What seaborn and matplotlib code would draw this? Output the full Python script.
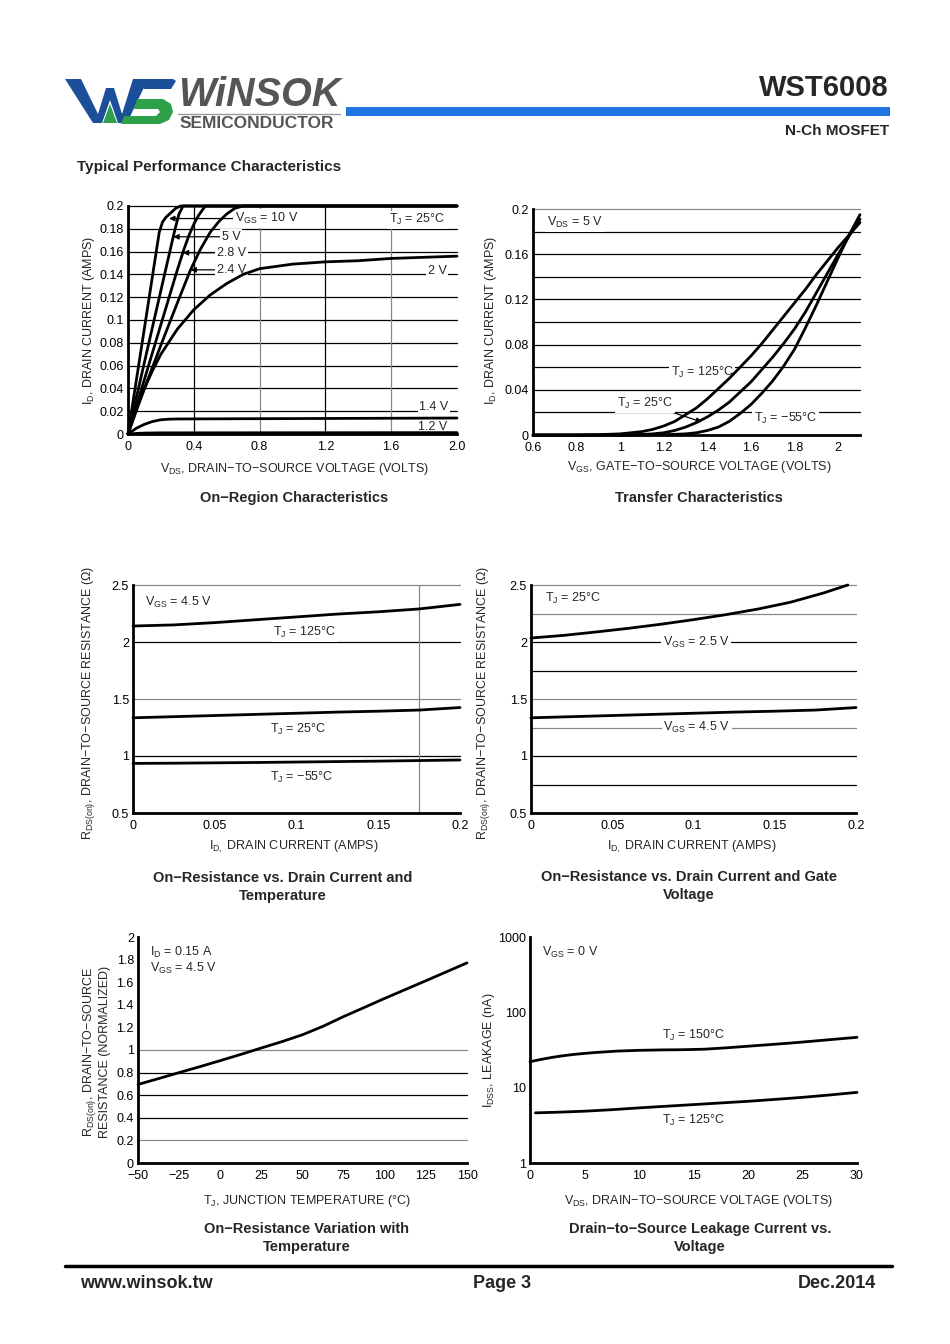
import matplotlib
matplotlib.use("Agg")
import matplotlib.pyplot as plt
import seaborn as sns
from matplotlib.patches import Polygon

W, H = 950, 1344

# ---- values ----
# On-region characteristics (Tj = 25C), VDS in volts, ID in amps
on_10v_x = [0, 0.1, 0.19, 0.21, 0.23, 0.26, 0.29, 0.32, 2.0]
on_10v_y = [0, 0.093, 0.177, 0.186, 0.19, 0.194, 0.198, 0.2, 0.2]
on_5v_x = [0, 0.1, 0.2, 0.275, 0.29, 0.31, 0.335, 2.0]
on_5v_y = [0, 0.063, 0.126, 0.173, 0.182, 0.193, 0.2, 0.2]
on_28v_x = [0, 0.1, 0.2, 0.3, 0.34, 0.37, 0.4, 0.43, 0.47, 2.0]
on_28v_y = [0, 0.048, 0.096, 0.144, 0.162, 0.174, 0.184, 0.192, 0.2, 0.2]
on_24v_x = [0, 0.1, 0.2, 0.3, 0.38, 0.44, 0.5, 0.55, 0.6, 0.65, 0.7, 2.0]
on_24v_y = [0, 0.04, 0.078, 0.115, 0.144, 0.162, 0.177, 0.186, 0.193, 0.198, 0.2, 0.2]
on_2v_x = [0, 0.05, 0.1, 0.15, 0.2, 0.3, 0.4, 0.5, 0.6, 0.7, 0.8, 0.9, 1.0, 1.2, 1.4, 1.6, 1.8, 2.0]
on_2v_y = [0, 0.022, 0.04, 0.056, 0.07, 0.092, 0.109, 0.122, 0.132, 0.14, 0.145, 0.147,
           0.149, 0.151, 0.152, 0.154, 0.155, 0.156]
on_14v_x = [0, 0.05, 0.1, 0.15, 0.2, 0.25, 0.3, 2.0]
on_14v_y = [0, 0.005, 0.0085, 0.011, 0.0125, 0.013, 0.0132, 0.014]
on_12v_x = [0, 0.05, 0.1, 0.2, 2.0]
on_12v_y = [0, 0.0005, 0.0008, 0.001, 0.0012]

# Transfer characteristics (VDS = 5 V)
vgs = [0.6, 0.8, 0.9, 1.0, 1.05, 1.1, 1.15, 1.2, 1.25, 1.3, 1.35, 1.4, 1.45, 1.5, 1.55,
       1.6, 1.65, 1.7, 1.75, 1.8, 1.85, 1.9, 1.95, 2.0, 2.05, 2.1]
id_125 = [0, 0, 0.0003, 0.001, 0.002, 0.003, 0.005, 0.008, 0.012, 0.018, 0.024, 0.032,
          0.041, 0.05, 0.06, 0.07, 0.081, 0.093, 0.105, 0.117, 0.129, 0.142, 0.154,
          0.166, 0.177, 0.188]
id_25 = [0, 0, 0, 0, 0.0002, 0.0005, 0.001, 0.002, 0.004, 0.007, 0.011, 0.016, 0.022,
         0.029, 0.038, 0.047, 0.058, 0.069, 0.081, 0.094, 0.109, 0.126, 0.143, 0.16,
         0.176, 0.191]
id_m55 = [0, 0, 0, 0, 0, 0, 0.0001, 0.0003, 0.0006, 0.001, 0.002, 0.004, 0.007, 0.012,
          0.019, 0.027, 0.037, 0.048, 0.061, 0.076, 0.095, 0.115, 0.136, 0.157, 0.177,
          0.195]

# On-resistance vs drain current and temperature (VGS = 4.5 V)
id_r = [0, 0.025, 0.05, 0.075, 0.1, 0.125, 0.15, 0.175, 0.2]
r_125 = [2.14, 2.15, 2.17, 2.195, 2.22, 2.245, 2.265, 2.29, 2.33]
r_25 = [1.335, 1.345, 1.355, 1.365, 1.375, 1.385, 1.393, 1.403, 1.425]
r_m55 = [0.935, 0.937, 0.94, 0.943, 0.947, 0.951, 0.955, 0.96, 0.965]

# On-resistance vs drain current and gate voltage (Tj = 25C)
id_g25 = [0, 0.02, 0.04, 0.06, 0.08, 0.1, 0.12, 0.14, 0.16, 0.18, 0.195]
r_g25 = [2.035, 2.058, 2.088, 2.12, 2.156, 2.196, 2.24, 2.29, 2.35, 2.43, 2.5]
r_g45 = [1.335, 1.345, 1.355, 1.365, 1.375, 1.385, 1.393, 1.403, 1.425]

# Normalised on-resistance vs junction temperature
tj = [-50, -37.5, -25, -12.5, 0, 12.5, 25, 37.5, 50, 62.5, 75, 87.5, 100, 112.5, 125, 137.5, 150]
r_norm = [0.695, 0.747, 0.8, 0.852, 0.906, 0.961, 1.018, 1.074, 1.135, 1.21, 1.296, 1.376,
          1.457, 1.535, 1.613, 1.692, 1.771]
tj_ticks = [-50, -25, 0, 25, 50, 75, 100, 125, 150]

# Drain leakage (nA) vs VDS
vds_l150 = [0, 1, 2, 3, 4, 5, 6, 8, 10, 12, 14, 16, 18, 20, 22, 24, 26, 28, 30]
idss_150 = [22.1, 23.7, 25.2, 26.5, 27.6, 28.5, 29.3, 30.6, 31.3, 31.7, 31.9, 32.4, 33.8,
            35.5, 37.3, 39.2, 41.5, 44.0, 46.6]
vds_l125 = [0.5, 2.5, 5, 7.5, 10, 12.5, 15, 17.5, 20, 22.5, 25, 27.5, 30]
idss_125 = [4.63, 4.72, 4.87, 5.1, 5.39, 5.67, 5.96, 6.27, 6.59, 6.99, 7.44, 8.0, 8.66]

sns.set_theme(style="white")
plt.rcParams["font.family"] = ["Liberation Sans", "DejaVu Sans"]
plt.rcParams["mathtext.fontset"] = "custom"
plt.rcParams["mathtext.rm"] = "Liberation Sans"
plt.rcParams["mathtext.it"] = "Liberation Sans:italic"
plt.rcParams["mathtext.bf"] = "Liberation Sans:bold"

fig = plt.figure(figsize=(W / 100, H / 100), dpi=100)
fig.patch.set_facecolor("white")

# page layer in pixel coordinates
bg = fig.add_axes([0, 0, 1, 1])
bg.set_xlim(0, W)
bg.set_ylim(H, 0)
bg.axis("off")

BLUE = "#1c4f9a"
GREEN = "#2ea04a"
for pts, c in [
    ([(65, 79), (81, 79), (98, 114), (106, 88), (114, 88), (122, 114), (133, 79),
      (148, 79), (127, 123), (118, 123), (110, 100), (102, 123), (93, 123)], BLUE),
    ([(103, 123), (110, 104), (117, 123)], GREEN),
    ([(133, 79), (173, 79), (176, 81), (171, 89), (144, 89)], BLUE),
    ([(137, 99), (163, 99), (171, 104), (173, 112), (169, 120), (160, 124), (121, 124),
      (124, 116), (156, 116), (160, 112), (158, 109), (134, 109)], GREEN),
]:
    bg.add_patch(Polygon(pts, closed=True, fc=c, ec="none"))
bg.text(178, 95, "WiNSOK", fontsize=28.5, fontweight="bold", fontstyle="italic",
        color="#555555", va="center", ha="left")
bg.plot([178, 340], [114, 114], color="#999999", lw=1)
bg.text(180, 124, "SEMICONDUCTOR", fontsize=12.5, fontweight="bold",
        color="#555555", va="center", ha="left")
bg.add_patch(plt.Rectangle((346, 107), 544, 9, fc="#1f74e0", ec="none"))
bg.text(889, 88, "WST6008", fontsize=21, fontweight="bold", ha="right", va="center")
bg.text(889, 131, "N-Ch MOSFET", fontsize=11, fontweight="bold", ha="right", va="center")
bg.text(77, 167, "Typical Performance Characteristics", fontsize=11,
        fontweight="bold", ha="left", va="center")

# footer
bg.plot([65, 892], [1266, 1266], color="black", lw=2.5)
bg.text(80, 1283, "www.winsok.tw", fontsize=13, fontweight="bold", ha="left", va="center")
bg.text(502, 1283, "Page 3", fontsize=13, fontweight="bold", ha="center", va="center")
bg.text(876, 1283, "Dec.2014", fontsize=13, fontweight="bold", ha="right", va="center")

FS = 9


def add_ax(l, t, r, b):
    ax = fig.add_axes([l / W, 1 - b / H, (r - l) / W, (b - t) / H])
    ax.set_facecolor("none")
    sns.despine(ax=ax)
    for s in ("left", "bottom"):
        ax.spines[s].set_linewidth(2)
        ax.spines[s].set_color("black")
    ax.tick_params(length=0, labelsize=FS, colors="black", pad=5)
    ax.grid(False)
    return ax


def hgrid(ax, vals, colors):
    for v, c in zip(vals, colors):
        ax.axhline(v, color=c, lw=0.9, zorder=0.5, clip_on=False)


def curve(ax, x, y):
    sns.lineplot(x=x, y=y, ax=ax, color="black", lw=2, zorder=3)
    ax.lines[-1].set_clip_on(False)


def lab(ax, x, y, s, ha="center"):
    ax.text(x, y, s, fontsize=FS, ha=ha, va="center", zorder=2,
            bbox=dict(fc="white", ec="none", pad=1.2))


def caption(x, y, s):
    bg.text(x, y, s, fontsize=10.5, fontweight="bold", ha="center", va="center",
            linespacing=1.35)


def axlabel(x, y, s, rot=0):
    bg.text(x, y, s, fontsize=FS, ha="center", va="center", rotation=rot,
            multialignment="center", linespacing=1.2)


arrow = dict(arrowstyle="-|>", color="black", lw=0.9, mutation_scale=8,
             shrinkA=0, shrinkB=0)

# ---------- 1. On-region characteristics ----------
ax1 = add_ax(128, 206, 457, 434)
ax1.set_xlim(0, 2.0)
ax1.set_ylim(0, 0.2)
yt = [0.02 * i for i in range(11)]
hgrid(ax1, yt[1:], ["black"] * 10)
for v, c in zip([0.4, 0.8, 1.2, 1.6], ["black", "#888888", "black", "#888888"]):
    ax1.axvline(v, color=c, lw=0.9, zorder=0.5)
for x, y in [(on_10v_x, on_10v_y), (on_5v_x, on_5v_y), (on_28v_x, on_28v_y),
             (on_24v_x, on_24v_y), (on_2v_x, on_2v_y), (on_14v_x, on_14v_y),
             (on_12v_x, on_12v_y)]:
    curve(ax1, x, y)
ax1.set_xticks([0, 0.4, 0.8, 1.2, 1.6, 2.0], ["0", "0.4", "0.8", "1.2", "1.6", "2.0"])
ax1.set_yticks(yt, ["0", "0.02", "0.04", "0.06", "0.08", "0.1", "0.12", "0.14",
                    "0.16", "0.18", "0.2"])
ax1.tick_params(axis="y", pad=3)
for s, tx, ty, tip in [("V$_{\\mathregular{GS}}$ = 10 V", 0.65, 0.189, (0.25, 0.189)),
                       ("5 V", 0.57, 0.173, (0.275, 0.173)),
                       ("2.8 V", 0.54, 0.159, (0.333, 0.159)),
                       ("2.4 V", 0.54, 0.144, (0.38, 0.144))]:
    ax1.annotate(s, xy=tip, xytext=(tx, ty), fontsize=FS, ha="left", va="center",
                 zorder=2, arrowprops=arrow, bbox=dict(fc="white", ec="none", pad=1.2))
lab(ax1, 1.76, 0.188, "T$_{\\mathregular{J}}$ = 25°C")
lab(ax1, 1.88, 0.143, "2 V")
lab(ax1, 1.86, 0.024, "1.4 V")
lab(ax1, 1.85, 0.006, "1.2 V")
axlabel(294, 469, "V$_{\\mathregular{DS}}$, DRAIN−TO−SOURCE VOLTAGE (VOLTS)")
axlabel(89, 320, "I$_{\\mathregular{D}}$, DRAIN CURRENT (AMPS)", 90)
caption(294, 498, "On−Region Characteristics")

# ---------- 2. Transfer characteristics ----------
ax2 = add_ax(533, 209, 860, 435)
ax2.set_xlim(0.6, 2.1)
ax2.set_ylim(0, 0.2)
hgrid(ax2, yt[1:], ["black"] * 9 + ["#888888"])
for y in (id_125, id_25, id_m55):
    curve(ax2, vgs, y)
ax2.set_xticks([0.6, 0.8, 1.0, 1.2, 1.4, 1.6, 1.8, 2.0],
               ["0.6", "0.8", "1", "1.2", "1.4", "1.6", "1.8", "2"])
ax2.set_yticks([0, 0.04, 0.08, 0.12, 0.16, 0.2], ["0", "0.04", "0.08", "0.12", "0.16", "0.2"])
ax2.tick_params(axis="y", pad=3)
lab(ax2, 0.793, 0.188, "V$_{\\mathregular{DS}}$ = 5 V")
lab(ax2, 1.376, 0.055, "T$_{\\mathregular{J}}$ = 125°C")
lab(ax2, 1.757, 0.015, "T$_{\\mathregular{J}}$ = −55°C")
ax2.annotate("T$_{\\mathregular{J}}$ = 25°C", xy=(1.375, 0.0115), xytext=(1.114, 0.028),
             fontsize=FS, ha="center", va="center", zorder=2, arrowprops=arrow,
             bbox=dict(fc="white", ec="none", pad=1.2))
axlabel(699, 467, "V$_{\\mathregular{GS}}$, GATE−TO−SOURCE VOLTAGE (VOLTS)")
axlabel(491, 320, "I$_{\\mathregular{D}}$, DRAIN CURRENT (AMPS)", 90)
caption(699, 498, "Transfer Characteristics")

# ---------- 3. On-resistance vs drain current and temperature ----------
ax3 = add_ax(133, 585, 460, 813)
ax3.set_xlim(0, 0.2)
ax3.set_ylim(0.5, 2.5)
hgrid(ax3, [1.0, 1.5, 2.0, 2.5], ["black", "#888888", "black", "#888888"])
ax3.axvline(0.175, color="#888888", lw=0.9, zorder=0.5)
for y in (r_125, r_25, r_m55):
    curve(ax3, id_r, y)
ax3.set_xticks([0, 0.05, 0.1, 0.15, 0.2], ["0", "0.05", "0.1", "0.15", "0.2"])
ax3.set_yticks([0.5, 1, 1.5, 2, 2.5], ["0.5", "1", "1.5", "2", "2.5"])
ax3.tick_params(axis="y", pad=3)
lab(ax3, 0.0075, 2.35, "V$_{\\mathregular{GS}}$ = 4.5 V", ha="left")
lab(ax3, 0.105, 2.08, "T$_{\\mathregular{J}}$ = 125°C")
lab(ax3, 0.101, 1.237, "T$_{\\mathregular{J}}$ = 25°C")
lab(ax3, 0.103, 0.816, "T$_{\\mathregular{J}}$ = −55°C")
axlabel(294, 847, "I$_{\\mathregular{D,}}$ DRAIN CURRENT (AMPS)")
axlabel(89, 703, "R$_{\\mathregular{DS(on)}}$, DRAIN−TO−SOURCE RESISTANCE (Ω)", 90)
caption(283, 887, "On−Resistance vs. Drain Current and\nTemperature")

# ---------- 4. On-resistance vs drain current and gate voltage ----------
ax4 = add_ax(531, 585, 856, 813)
ax4.set_xlim(0, 0.2)
ax4.set_ylim(0.5, 2.5)
hgrid(ax4, [0.75, 1.0, 1.25, 1.5, 1.75, 2.0, 2.25, 2.5],
      ["black", "black", "#888888", "#888888", "black", "black", "#888888", "#888888"])
curve(ax4, id_g25, r_g25)
curve(ax4, id_r, r_g45)
ax4.set_xticks([0, 0.05, 0.1, 0.15, 0.2], ["0", "0.05", "0.1", "0.15", "0.2"])
ax4.set_yticks([0.5, 1, 1.5, 2, 2.5], ["0.5", "1", "1.5", "2", "2.5"])
ax4.tick_params(axis="y", pad=3)
lab(ax4, 0.0085, 2.386, "T$_{\\mathregular{J}}$ = 25°C", ha="left")
lab(ax4, 0.1015, 2.0, "V$_{\\mathregular{GS}}$ = 2.5 V")
lab(ax4, 0.102, 1.25, "V$_{\\mathregular{GS}}$ = 4.5 V")
axlabel(692, 847, "I$_{\\mathregular{D,}}$ DRAIN CURRENT (AMPS)")
axlabel(484, 703, "R$_{\\mathregular{DS(on)}}$, DRAIN−TO−SOURCE RESISTANCE (Ω)", 90)
caption(689, 886, "On−Resistance vs. Drain Current and Gate\nVoltage")

# ---------- 5. On-resistance variation with temperature ----------
ax5 = add_ax(138, 937, 467, 1163)
ax5.set_xlim(-50, 150)
ax5.set_ylim(0, 2)
hgrid(ax5, [0.2, 0.4, 0.6, 0.8, 1.0], ["#888888", "black", "black", "black", "#888888"])
curve(ax5, tj, r_norm)
ax5.set_xticks(tj_ticks, ["−50", "−25", "0", "25", "50", "75", "100", "125", "150"])
ax5.set_yticks([0.2 * i for i in range(11)],
               ["0", "0.2", "0.4", "0.6", "0.8", "1", "1.2", "1.4", "1.6", "1.8", "2"])
ax5.tick_params(axis="y", pad=3)
ax5.text(-42.7, 1.86, "I$_{\\mathregular{D}}$ = 0.15 A", fontsize=FS, ha="left", va="center")
ax5.text(-42.7, 1.72, "V$_{\\mathregular{GS}}$ = 4.5 V", fontsize=FS, ha="left", va="center")
axlabel(307, 1201, "T$_{\\mathregular{J}}$, JUNCTION TEMPERATURE (°C)")
axlabel(96, 1052, "R$_{\\mathregular{DS(on)}}$, DRAIN−TO−SOURCE\nRESISTANCE (NORMALIZED)", 90)
caption(307, 1238, "On−Resistance Variation with\nTemperature")

# ---------- 6. Drain-to-source leakage ----------
ax6 = add_ax(530, 937, 857, 1163)
ax6.set_yscale("log")
ax6.set_xlim(0, 30)
ax6.set_ylim(1, 1000)
curve(ax6, vds_l150, idss_150)
curve(ax6, vds_l125, idss_125)
ax6.set_xticks([0, 5, 10, 15, 20, 25, 30], ["0", "5", "10", "15", "20", "25", "30"])
ax6.set_yticks([1, 10, 100, 1000], ["1", "10", "100", "1000"])
ax6.minorticks_off()
ax6.tick_params(axis="y", which="both", length=0, pad=3)
ax6.text(1.1, 633, "V$_{\\mathregular{GS}}$ = 0 V", fontsize=FS, ha="left", va="center")
ax6.text(15, 48.6, "T$_{\\mathregular{J}}$ = 150°C", fontsize=FS, ha="center", va="center")
ax6.text(15, 3.72, "T$_{\\mathregular{J}}$ = 125°C", fontsize=FS, ha="center", va="center")
axlabel(698, 1201, "V$_{\\mathregular{DS}}$, DRAIN−TO−SOURCE VOLTAGE (VOLTS)")
axlabel(489, 1050, "I$_{\\mathregular{DSS}}$, LEAKAGE (nA)", 90)
caption(700, 1238, "Drain−to−Source Leakage Current vs.\nVoltage")

fig.savefig("out.png", dpi=100, facecolor="white")
